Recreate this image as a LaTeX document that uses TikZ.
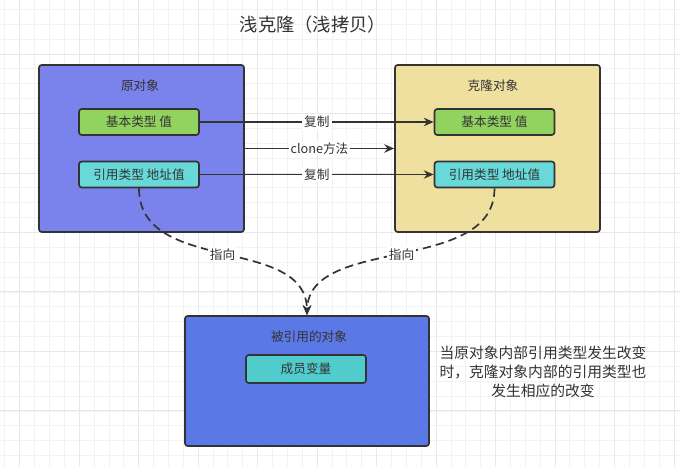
\documentclass[tikz,border=0pt]{standalone}
\usepackage{fontspec}
\setmainfont{Noto Sans CJK SC}
\usetikzlibrary{arrows.meta}

\definecolor{txtgray}{RGB}{51,51,51}
\definecolor{origblue}{RGB}{122,130,235}
\definecolor{clonesand}{RGB}{240,224,160}
\definecolor{refblue}{RGB}{90,120,230}
\definecolor{valgreen}{RGB}{146,210,95}
\definecolor{refcyan}{RGB}{104,216,216}
\definecolor{membcyan}{RGB}{80,204,204}

\tikzset{
	objbox/.style={draw=black!80, line width=1.2pt, rounded corners=2pt, minimum width=5.125cm, minimum height=4.175cm},
	fieldbox/.style={draw=black!80, line width=1.2pt, rounded corners=2pt, minimum width=3cm, minimum height=0.65cm, text=txtgray, font=\fontsize{9}{10}\selectfont},
	boxtitle/.style={text=txtgray, font=\fontsize{9}{10}\selectfont},
	conn/.style={draw=black!80, line width=1.2pt, -{Stealth[length=7pt, width=6pt]}},
	plainconn/.style={draw=black!80, line width=1.2pt},
	ptr/.style={draw=black!80, line width=1.2pt, dash pattern=on 6pt off 3.5pt, -{Stealth[length=7pt, width=6pt]}},
	elabel/.style={fill=white, text=txtgray, inner sep=1.5pt, font=\fontsize{9}{10}\selectfont},
	gridminor/.style={draw=black!5, line width=0.4pt},
	gridmajor/.style={draw=black!9, line width=0.5pt}
}

\begin{document}
\begin{tikzpicture}[x=0.025cm, y=-0.025cm]
			%%%%% START %%%%%
			
			\useasboundingbox (0, 0) rectangle (680, 467);
			\fill[white] (0, 0) rectangle (680, 467);
			
			% background grid
			\foreach \i in {0,...,45} \draw[gridminor] ({4.7+14.87*\i}, 0) -- ({4.7+14.87*\i}, 467);
			\foreach \j in {0,...,30} \draw[gridminor] (0, {9.3+14.87*\j}) -- (680, {9.3+14.87*\j});
			\foreach \i in {1,5,...,45} \draw[gridmajor] ({4.7+14.87*\i}, 0) -- ({4.7+14.87*\i}, 467);
			\foreach \j in {3,7,...,30} \draw[gridmajor] (0, {9.3+14.87*\j}) -- (680, {9.3+14.87*\j});
			
			\node[text=txtgray, font=\fontsize{13}{15}\selectfont] (title) at (313, 25) {浅克隆（浅拷贝）};
			
			% original object
			\node[objbox, fill=origblue] (orig) at (141.5, 148.5) {};
			\node[boxtitle] (origt) at (140, 86) {原对象};
			\node[fieldbox, fill=valgreen] (lval) at (139, 122) {基本类型 值};
			\node[fieldbox, fill=refcyan] (lref) at (139, 174.5) {引用类型 地址值};
			
			% cloned object
			\node[objbox, fill=clonesand] (clone) at (497.5, 148.5) {};
			\node[boxtitle] (clonet) at (493, 86) {克隆对象};
			\node[fieldbox, fill=valgreen] (rval) at (494.5, 122) {基本类型 值};
			\node[fieldbox, fill=refcyan] (rref) at (494.5, 174.5) {引用类型 地址值};
			
			% referenced object
			\node[draw=black!80, line width=1.2pt, rounded corners=2pt, fill=refblue, minimum width=6.1cm, minimum height=3.25cm] (target) at (307, 381) {};
			\node[boxtitle] (targett) at (309, 337) {被引用的对象};
			\node[fieldbox, fill=membcyan, minimum height=0.7cm] (member) at (306, 369) {成员变量};
			
			\node[text=txtgray, align=center, font=\fontsize{10.5}{13.5}\selectfont] (note) at (543, 372) {当原对象内部引用类型发生改变\\时，克隆对象内部的引用类型也\\发生相应的改变};
			
			% copies
			\draw[conn] (lval.east) -- node[elabel] {复制} (rval.west);
			\draw[conn] (orig.east) -- node[elabel] {clone方法} (clone.west);
			\draw[conn] (lref.east) -- node[elabel] {复制} (rref.west);
			
			% references
			\draw[ptr] (lref.south) .. controls (139, 275) and (306, 235) .. node[elabel] {指向} (target.north);
			\draw[ptr] (rref.south) .. controls (494.5, 275) and (309, 235) .. node[elabel] {指向} (target.north);
			
			%%%%% END %%%%%
		\end{tikzpicture}
\end{document}
